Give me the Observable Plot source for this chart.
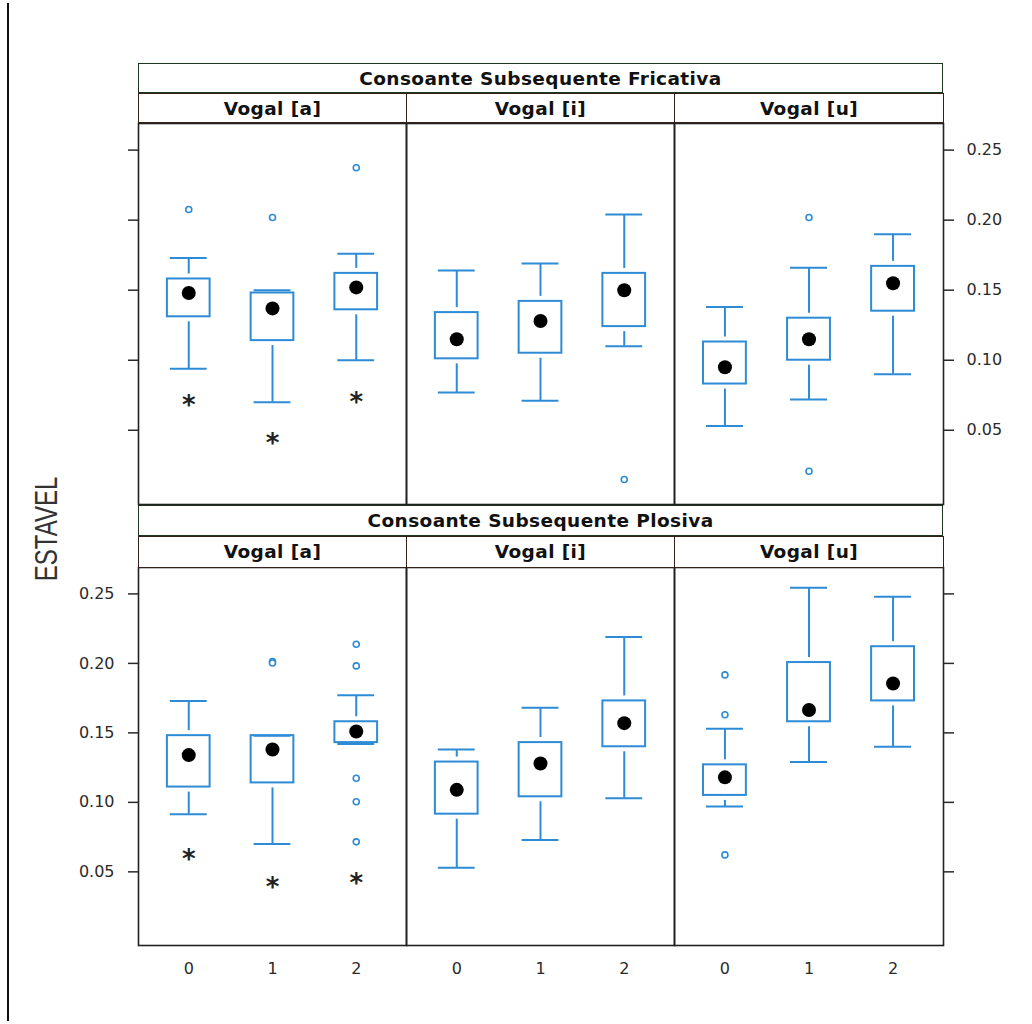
<!DOCTYPE html>
<html>
<head>
<meta charset="utf-8">
<script src="https://cdn.jsdelivr.net/npm/d3@7"></script>
<script src="https://cdn.jsdelivr.net/npm/@observablehq/plot@0.6"></script>
<style>
  html, body { margin: 0; padding: 0; background: #fff; }
  #chart { position: relative; width: 1032px; height: 1024px; overflow: hidden; background: #fff; }
  .strip { position: absolute; box-sizing: border-box; background: #fff; display: flex; align-items: center; justify-content: center;
           font-family: "DejaVu Sans", sans-serif; font-weight: bold; font-size: 18.5px; letter-spacing: 0.4px; color: #111; white-space: nowrap; }
  .outer { border: 1.5px solid #1f351f; }
  .inner { border: 1.5px solid #35231a; }
</style>
</head>
<body>
<div id="chart"></div>
<script>
// ---------- data ----------
const consoantes = ["Fricativa", "Plosiva"];
const consoanteTitles = ["Consoante Subsequente Fricativa", "Consoante Subsequente Plosiva"];
const vogais = ["a", "i", "u"];
const vogalTitles = ["Vogal [a]", "Vogal [i]", "Vogal [u]"];
const groups = ["0", "1", "2"];
const yTicks = [0.05, 0.10, 0.15, 0.20, 0.25];
const yTickLabels = ["0.05", "0.10", "0.15", "0.20", "0.25"];

// order: consoante -> vogal -> group
const lowWhisker = [
  0.094, 0.070, 0.100,   0.077, 0.071, 0.110,   0.053, 0.072, 0.090,
  0.0915, 0.070, 0.142,  0.053, 0.073, 0.103,   0.097, 0.129, 0.140
];
const q1 = [
  0.131, 0.114, 0.136,   0.101, 0.105, 0.124,   0.083, 0.100, 0.135,
  0.111, 0.114, 0.143,   0.0915, 0.104, 0.140,  0.105, 0.158, 0.173
];
const medians = [
  0.148, 0.137, 0.152,   0.115, 0.128, 0.150,   0.095, 0.115, 0.155,
  0.134, 0.138, 0.151,   0.109, 0.128, 0.157,   0.118, 0.1665, 0.1855
];
const q3 = [
  0.158, 0.148, 0.162,   0.134, 0.142, 0.162,   0.113, 0.130, 0.167,
  0.148, 0.148, 0.158,   0.129, 0.143, 0.173,   0.127, 0.2006, 0.212
];
const highWhisker = [
  0.173, 0.150, 0.176,   0.164, 0.169, 0.204,   0.138, 0.166, 0.190,
  0.173, 0.148, 0.177,   0.138, 0.168, 0.219,   0.153, 0.2545, 0.248
];
// outliers: [consoante, vogal, group, value]
const outliers = [
  ["Fricativa", "a", 0, 0.2076], ["Fricativa", "a", 1, 0.2019], ["Fricativa", "a", 2, 0.2374],
  ["Fricativa", "i", 2, 0.0148],
  ["Fricativa", "u", 1, 0.2019], ["Fricativa", "u", 1, 0.0207],
  ["Plosiva", "a", 1, 0.2013], ["Plosiva", "a", 1, 0.2003],
  ["Plosiva", "a", 2, 0.2138], ["Plosiva", "a", 2, 0.1982], ["Plosiva", "a", 2, 0.1174],
  ["Plosiva", "a", 2, 0.1004], ["Plosiva", "a", 2, 0.0716],
  ["Plosiva", "u", 0, 0.1917], ["Plosiva", "u", 0, 0.163], ["Plosiva", "u", 0, 0.0622]
];
// asterisk markers: [consoante, vogal, group, value]
const asterisks = [
  ["Fricativa", "a", 0, 0.0726], ["Fricativa", "a", 1, 0.0452], ["Fricativa", "a", 2, 0.075],
  ["Plosiva", "a", 0, 0.0639], ["Plosiva", "a", 1, 0.0435], ["Plosiva", "a", 2, 0.0464]
];

// ---------- build table ----------
const boxes = [];
consoantes.forEach((c, ri) => vogais.forEach((v, vi) => groups.forEach((g, gi) => {
  const k = ri * 9 + vi * 3 + gi;
  boxes.push({cons: c, vogal: v, g: gi, low: lowWhisker[k], q1: q1[k], med: medians[k], q3: q3[k], high: highWhisker[k]});
})));
const outTable = outliers.map(([cons, vogal, g, v]) => ({cons, vogal, g, v}));
const astTable = asterisks.map(([cons, vogal, g, v]) => ({cons, vogal, g, v}));

// ---------- layout ----------
const blue = "#2e8bd6";
const colLefts = [138, 406, 674];
const colWidths = [268, 268, 269];
const rowTops = [123, 567];
const rowHeights = [381, 378];
const mL = 70, mR = 70, mT = 10, mB = 40;
const chart = document.getElementById("chart");

function panel(ri, vi) {
  const c = consoantes[ri], v = vogais[vi];
  const box = boxes.filter(d => d.cons === c && d.vogal === v);
  const out = outTable.filter(d => d.cons === c && d.vogal === v);
  const ast = astTable.filter(d => d.cons === c && d.vogal === v);
  const marks = [
    Plot.frame({stroke: "#222", strokeWidth: 1.6}),
    Plot.ruleX(box.filter(d => d.high > d.q3 + 0.004), {x: "g", y1: "high", y2: "q3", insetBottom: 5, stroke: blue, strokeWidth: 2}),
    Plot.ruleX(box.filter(d => d.q1 > d.low + 0.004), {x: "g", y1: "q1", y2: "low", insetTop: 5, stroke: blue, strokeWidth: 2}),
    Plot.ruleY(box, {y: "high", x1: d => d.g - 0.22, x2: d => d.g + 0.22, stroke: blue, strokeWidth: 2}),
    Plot.ruleY(box, {y: "low", x1: d => d.g - 0.22, x2: d => d.g + 0.22, stroke: blue, strokeWidth: 2}),
    Plot.rect(box, {x1: d => d.g - 0.255, x2: d => d.g + 0.255, y1: "q1", y2: "q3", stroke: blue, strokeWidth: 2, fill: "none"}),
    Plot.dot(box, {x: "g", y: "med", r: 7, fill: "black", stroke: null}),
    Plot.dot(out, {x: "g", y: "v", r: 3, stroke: blue, strokeWidth: 1.6, fill: "white"}),
    Plot.text(ast, {x: "g", y: "v", text: () => "*", fontSize: 26, fontWeight: "bold", fill: "#222", dy: 7})
  ];
  const opts = {
    width: mL + colWidths[vi] + mR,
    height: mT + rowHeights[ri] + mB,
    marginLeft: mL, marginRight: mR, marginTop: mT, marginBottom: mB,
    x: {type: "linear", domain: [-0.6, 2.6], label: null},
    y: {type: "linear", domain: [-0.003, 0.269], label: null},
    style: {fontFamily: "DejaVu Sans, sans-serif", fontSize: "16px", color: "#2a2a2a", background: "transparent", overflow: "visible"},
    marks
  };
  if (ri === 1) {
    marks.push(Plot.axisX({ticks: [0, 1, 2], tickFormat: i => groups[i], tickSize: 0, tickPadding: 17, fontSize: 16, label: null}));
  } else {
    opts.x.axis = null;
  }
  const fmt = t => yTickLabels[yTicks.indexOf(t)];
  if (vi === 0) {
    marks.push(Plot.axisY({anchor: "left", ticks: yTicks, tickSize: 10, tickPadding: 14, strokeWidth: 1.5,
      tickFormat: ri === 1 ? fmt : () => "", fontSize: 16, label: null}));
  }
  if (vi === 2) {
    marks.push(Plot.axisY({anchor: "right", ticks: yTicks, tickSize: 10, tickPadding: 13, strokeWidth: 1.5,
      tickFormat: ri === 0 ? fmt : () => "", fontSize: 16, label: null}));
  }
  if (vi === 1) opts.y.axis = null;
  const svg = Plot.plot(opts);
  svg.style.position = "absolute";
  svg.style.left = (colLefts[vi] - mL) + "px";
  svg.style.top = (rowTops[ri] - mT) + "px";
  svg.style.maxWidth = "none";
  return svg;
}

// left border line
const line = document.createElement("div");
Object.assign(line.style, {position: "absolute", left: "7px", top: "3px", width: "0px", height: "1018px", borderLeft: "2px solid #111"});
chart.appendChild(line);

// panels
for (let ri = 0; ri < 2; ri++) for (let vi = 0; vi < 3; vi++) chart.appendChild(panel(ri, vi));

// strips
const stripTops = [[63, 93], [505, 536]];
const stripH = [[30, 30], [31, 31.5]];
for (let ri = 0; ri < 2; ri++) {
  const o = document.createElement("div");
  o.className = "strip outer";
  o.textContent = consoanteTitles[ri];
  Object.assign(o.style, {left: "138px", top: stripTops[ri][0] + "px", width: "805px", height: stripH[ri][0] + "px"});
  chart.appendChild(o);
  for (let vi = 0; vi < 3; vi++) {
    const s = document.createElement("div");
    s.className = "strip inner";
    s.textContent = vogalTitles[vi];
    Object.assign(s.style, {left: colLefts[vi] + "px", top: stripTops[ri][1] + "px", width: (colWidths[vi] + 1) + "px", height: stripH[ri][1] + "px"});
    chart.appendChild(s);
  }
}

// y label
const yl = document.createElement("div");
yl.textContent = "ESTAVEL";
Object.assign(yl.style, {position: "absolute", left: "46.5px", top: "528.5px", transform: "translate(-50%,-50%) scaleX(1.3) rotate(-90deg)",
  fontFamily: "'Liberation Sans', Arial, sans-serif", fontSize: "24px", lineHeight: "1", color: "#333", whiteSpace: "nowrap"});
chart.appendChild(yl);
</script>
</body>
</html>
